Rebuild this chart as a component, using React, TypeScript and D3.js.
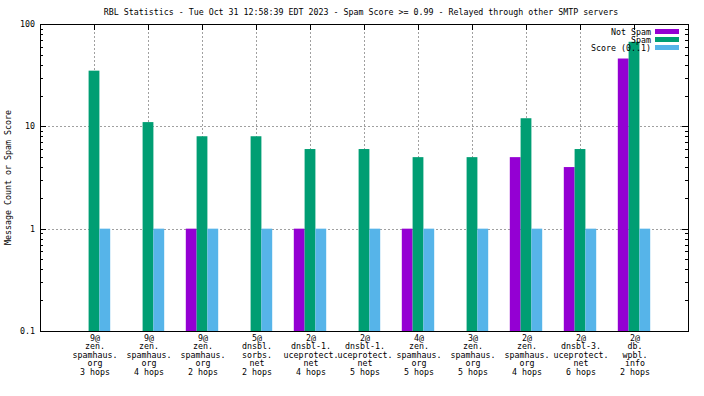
import React, { useEffect, useRef } from 'react';
import * as d3 from 'd3';

const title = 'RBL Statistics - Tue Oct 31 12:58:39 EDT 2023 - Spam Score >= 0.99 - Relayed through other SMTP servers';

const categories: string[][] = [
  ['9@', 'zen.', 'spamhaus.', 'org', '3 hops'],
  ['9@', 'zen.', 'spamhaus.', 'org', '4 hops'],
  ['9@', 'zen.', 'spamhaus.', 'org', '2 hops'],
  ['5@', 'dnsbl.', 'sorbs.', 'net', '2 hops'],
  ['2@', 'dnsbl-1.', 'uceprotect.', 'net', '4 hops'],
  ['2@', 'dnsbl-1.', 'uceprotect.', 'net', '5 hops'],
  ['4@', 'zen.', 'spamhaus.', 'org', '5 hops'],
  ['3@', 'zen.', 'spamhaus.', 'org', '5 hops'],
  ['2@', 'zen.', 'spamhaus.', 'org', '4 hops'],
  ['2@', 'dnsbl-3.', 'uceprotect.', 'net', '6 hops'],
  ['2@', 'db.', 'wpbl.', 'info', '2 hops'],
];

const notSpam = [0, 0, 1, 0, 1, 0, 1, 0, 5, 4, 46];
const spam = [35, 11, 8, 8, 6, 6, 5, 5, 12, 6, 67];
const score = [1, 1, 1, 1, 1, 1, 1, 1, 1, 1, 1];

const seriesNames = ['Not Spam', 'Spam', 'Score (0..1)'];
const seriesColors = ['#9400d3', '#009e73', '#56b4e9'];
const yTicks = [0.1, 1, 10, 100];
const yTickLabels = ['0.1', '1', '10', '100'];

const FONT = '"DejaVu Sans Mono", monospace';

const Chart: React.FC = () => {
  const svgRef = useRef<SVGSVGElement>(null);

  useEffect(() => {
    if (!svgRef.current) return;
    const width = 704;
    const height = 396;
    const margin = { top: 24, right: 16, bottom: 65, left: 40 };

    const svg = d3.select(svgRef.current).attr('width', width).attr('height', height);
    svg.selectAll('*').remove();

    svg.append('rect').attr('width', width).attr('height', height).style('fill', 'white');

    const x = d3.scaleLinear().domain([0, categories.length + 1]).range([margin.left, width - margin.right]);
    const y = d3.scaleLog().domain([0.1, 100]).range([height - margin.bottom, margin.top]);
    const x0 = x.range()[0], x1 = x.range()[1];
    const y0 = y.range()[0], y1 = y.range()[1];
    const bw = x(0.2) - x(0);

    // grid
    const grid = svg.append('g')
      .style('stroke', '#a0a0a0')
      .style('stroke-dasharray', '2,2')
      .style('stroke-width', 1);
    [1, 10].forEach(v => {
      grid.append('line').attr('x1', x0).attr('x2', x1).attr('y1', Math.round(y(v)) + 0.5).attr('y2', Math.round(y(v)) + 0.5);
    });
    categories.forEach((_, i) => {
      const cx = Math.round(x(i + 1)) + 0.5;
      grid.append('line').attr('x1', cx).attr('x2', cx).attr('y1', y1).attr('y2', y0);
    });

    // bars
    const series = [notSpam, spam, score];
    series.forEach((vals, s) => {
      svg.append('g').selectAll('rect')
        .data(vals.map((v, i) => ({ v, i })).filter(d => d.v > 0))
        .enter().append('rect')
        .attr('x', d => x(d.i + 1 + (s - 1) * 0.2 - 0.1))
        .attr('width', bw)
        .attr('y', d => y(d.v))
        .attr('height', d => y0 - y(d.v))
        .style('fill', seriesColors[s]);
    });

    // ticks
    const ticks = svg.append('g').style('stroke', 'black').style('stroke-width', 1);
    const minor: number[] = [];
    [0.1, 1, 10].forEach(b => { for (let k = 2; k <= 9; k++) minor.push(b * k); });
    yTicks.forEach(v => {
      const yy = Math.round(y(v)) + 0.5;
      ticks.append('line').attr('x1', x0).attr('x2', x0 + 6).attr('y1', yy).attr('y2', yy);
      ticks.append('line').attr('x1', x1).attr('x2', x1 - 6).attr('y1', yy).attr('y2', yy);
    });
    minor.forEach(v => {
      const yy = Math.round(y(v)) + 0.5;
      ticks.append('line').attr('x1', x0).attr('x2', x0 + 3).attr('y1', yy).attr('y2', yy);
      ticks.append('line').attr('x1', x1).attr('x2', x1 - 3).attr('y1', yy).attr('y2', yy);
    });
    categories.forEach((_, i) => {
      const cx = Math.round(x(i + 1)) + 0.5;
      ticks.append('line').attr('x1', cx).attr('x2', cx).attr('y1', y1).attr('y2', y1 + 6);
    });

    // border
    svg.append('rect')
      .attr('x', x0 + 0.5).attr('y', y1 + 0.5)
      .attr('width', x1 - x0).attr('height', y0 - y1)
      .style('fill', 'none').style('stroke', 'black').style('stroke-width', 1);

    const text = svg.append('g').style('font-family', FONT).style('font-size', '8.3px').style('fill', 'black');

    text.append('text').attr('x', 361).attr('y', 15).attr('text-anchor', 'middle').text(title);

    yTicks.forEach((v, i) => {
      text.append('text').attr('x', x0 - 5).attr('y', y(v) + 3).attr('text-anchor', 'end').text(yTickLabels[i]);
    });

    text.append('text')
      .attr('transform', `translate(11,${(y0 + y1) / 2}) rotate(-90)`)
      .attr('text-anchor', 'middle')
      .text('Message Count or Spam Score');

    categories.forEach((lines, i) => {
      lines.forEach((ln, j) => {
        text.append('text')
          .attr('x', x(i + 1) + 1)
          .attr('y', y0 + 9.5 + j * 8.5)
          .attr('text-anchor', 'middle')
          .text(ln);
      });
    });

    // legend
    seriesNames.forEach((name, s) => {
      const cy = 31.5 + s * 8;
      text.append('text').attr('x', 651).attr('y', cy + 3).attr('text-anchor', 'end').text(name);
      svg.append('rect').attr('x', 655).attr('y', cy - 2.5).attr('width', 24).attr('height', 5).style('fill', seriesColors[s]);
    });
  }, []);

  return <svg ref={svgRef} style={{ position: 'absolute', left: 0, top: 0, display: 'block' }}></svg>;
};

export default function App() {
  return (
    <div>
      <Chart />
    </div>
  );
}
